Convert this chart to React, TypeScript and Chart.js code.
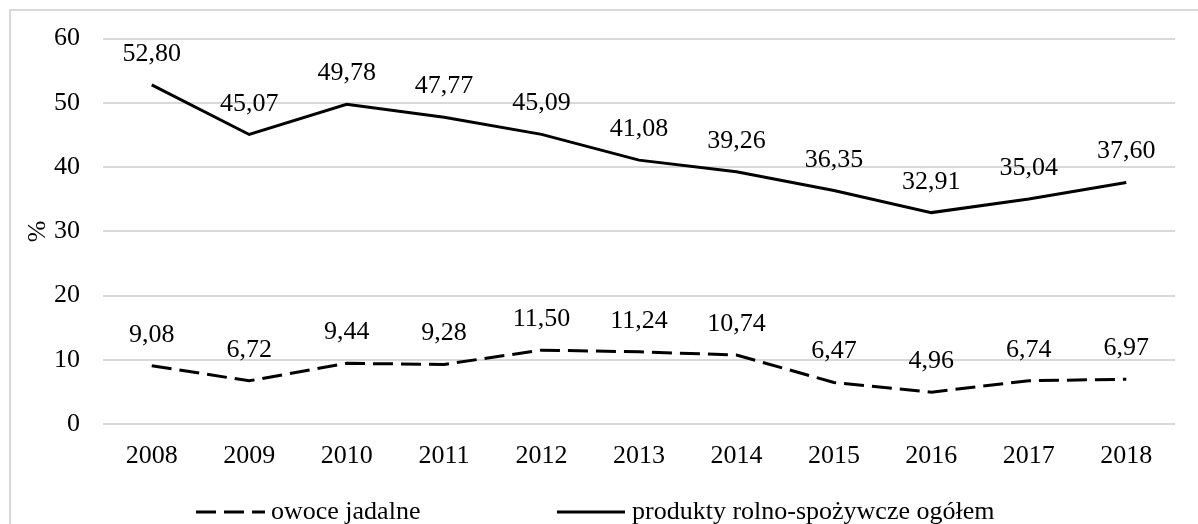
import React, { useEffect, useRef } from "react";
import { Chart, registerables } from "chart.js";

Chart.register(...registerables);

const years = ["2008", "2009", "2010", "2011", "2012", "2013", "2014", "2015", "2016", "2017", "2018"];
const owoceJadalne = [9.08, 6.72, 9.44, 9.28, 11.5, 11.24, 10.74, 6.47, 4.96, 6.74, 6.97];
const produktyOgolem = [52.8, 45.07, 49.78, 47.77, 45.09, 41.08, 39.26, 36.35, 32.91, 35.04, 37.6];
const seriesLabels = ["owoce jadalne", "produkty rolno-spożywcze ogółem"];
const yAxisTitle = "%";

const FONT = "'Liberation Serif', 'Times New Roman', serif";
const FS = 26;

const fmt = (v: number) => v.toFixed(2).replace(".", ",");

const extrasPlugin = {
  id: "extras",
  afterDatasetsDraw(chart: any) {
    const ctx = chart.ctx;
    ctx.save();
    ctx.fillStyle = "#000";
    ctx.font = `${FS}px ${FONT}`;
    ctx.textAlign = "center";
    ctx.textBaseline = "alphabetic";
    chart.data.datasets.forEach((ds: any, i: number) => {
      const meta = chart.getDatasetMeta(i);
      meta.data.forEach((pt: any, j: number) => {
        ctx.fillText(fmt(ds.data[j]), pt.x, pt.y - 24);
      });
    });
    // y axis title
    ctx.save();
    ctx.translate(38, (chart.chartArea.top + chart.chartArea.bottom) / 2);
    ctx.rotate(-Math.PI / 2);
    ctx.textBaseline = "middle";
    ctx.fillText(yAxisTitle, 0, 0);
    ctx.restore();
    // legend
    const items = [
      { x1: 196, x2: 265, tx: 271, dash: [20, 8] },
      { x1: 557, x2: 625, tx: 632, dash: [] as number[] },
    ];
    const ly = 512;
    items.forEach((it, i) => {
      const ds = chart.data.datasets[i];
      ctx.beginPath();
      ctx.setLineDash(it.dash);
      ctx.lineWidth = 3;
      ctx.strokeStyle = ds.borderColor;
      ctx.moveTo(it.x1, ly);
      ctx.lineTo(it.x2, ly);
      ctx.stroke();
      ctx.setLineDash([]);
      ctx.textAlign = "left";
      ctx.textBaseline = "alphabetic";
      ctx.fillText(ds.label, it.tx, 519);
    });
    ctx.restore();
  },
};

export default function App() {
  const ref = useRef<HTMLCanvasElement | null>(null);
  useEffect(() => {
    if (!ref.current) return;
    const chart = new Chart(ref.current, {
      type: "line",
      data: {
        labels: years,
        datasets: [
          {
            label: seriesLabels[0],
            data: owoceJadalne,
            borderColor: "#000",
            borderWidth: 3,
            borderDash: [20, 8],
            pointRadius: 0,
            tension: 0,
            fill: false,
          },
          {
            label: seriesLabels[1],
            data: produktyOgolem,
            borderColor: "#000",
            borderWidth: 3,
            pointRadius: 0,
            tension: 0,
            fill: false,
          },
        ],
      },
      options: {
        responsive: false,
        animation: false,
        devicePixelRatio: 1,
        layout: { padding: { left: 0, right: 23, top: 34, bottom: 0 } },
        plugins: {
          legend: { display: false },
          tooltip: { enabled: false },
        },
        scales: {
          x: {
            offset: true,
            grid: { display: false, drawTicks: false },
            border: { display: false },
            ticks: {
              color: "#000",
              font: { family: FONT, size: FS },
              padding: 17,
              maxRotation: 0,
            },
            afterFit: (s: any) => {
              s.height = 100;
            },
          },
          y: {
            min: 0,
            max: 60,
            grid: { color: "#d9d9d9", lineWidth: 2, drawTicks: false },
            border: { display: false },
            ticks: {
              stepSize: 10,
              color: "#000",
              font: { family: FONT, size: FS },
              padding: 23,
            },
            afterFit: (s: any) => {
              s.width = 103;
            },
          },
        },
      },
      plugins: [extrasPlugin],
    });
    return () => chart.destroy();
  }, []);

  return (
    <div style={{ position: "absolute", left: 0, top: 0, width: 1198, height: 524, overflow: "hidden", background: "#fff" }}>
      <div
        style={{
          position: "absolute",
          left: 9,
          top: 9,
          width: 1200,
          height: 540,
          border: "2px solid #d9d9d9",
          boxSizing: "border-box",
        }}
      />
      <canvas ref={ref} width={1198} height={524} style={{ position: "absolute", left: 0, top: 0, display: "block" }} />
    </div>
  );
}
